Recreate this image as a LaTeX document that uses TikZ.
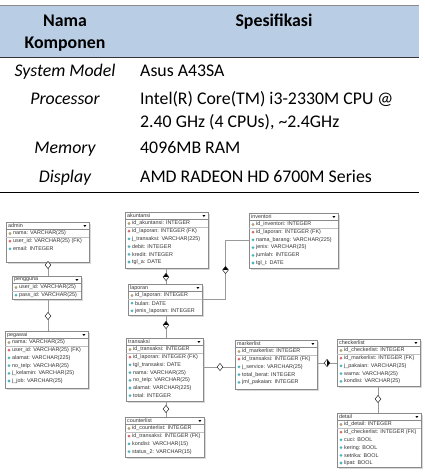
\documentclass[tikz,border=0pt]{standalone}
\usepackage{fontspec}
\setmainfont{Carlito}
\newfontfamily\erfont{Liberation Sans}
\usetikzlibrary{fit,calc,shapes.geometric}
\definecolor{hdrblue}{HTML}{B9CDE5}
\definecolor{erborder}{HTML}{8A8A8A}
\definecolor{connc}{HTML}{9A9A9A}
\definecolor{keyc}{HTML}{D9B44A}
\definecolor{fkc}{HTML}{D9686B}
\definecolor{atc}{HTML}{4FB3BF}
\tikzset{
  tabtxt/.style={font=\fontsize{17.8pt}{21pt}\selectfont, inner sep=0pt},
  tabhdr/.style={tabtxt, font=\fontsize{17.8pt}{21pt}\selectfont\bfseries},
  tabit/.style={tabtxt, font=\fontsize{17.8pt}{21pt}\selectfont\itshape},
  ertext/.style={font=\erfont\fontsize{5.4pt}{6pt}\selectfont, inner sep=0pt, text=black!80},
  icok/.style={circle, draw=black!55, fill=keyc, line width=0.25pt, minimum size=2.4pt, inner sep=0pt},
  icof/.style={diamond, fill=fkc, minimum width=3.2pt, minimum height=3.2pt, inner sep=0pt},
  icoa/.style={diamond, fill=atc, minimum width=3.2pt, minimum height=3.2pt, inner sep=0pt},
  conn/.style={draw=connc, line width=0.6pt},
  relopen/.style={diamond, draw=black!85, fill=white, line width=0.5pt, minimum width=6pt, minimum height=7.5pt, inner sep=0pt},
  reltop/.style={relopen, path picture={\fill[black] (path picture bounding box.north west) rectangle (path picture bounding box.east);}},
  relright/.style={relopen, path picture={\fill[black] (path picture bounding box.north) rectangle (path picture bounding box.south east);}},
}
\newcommand\erent[6]{%
  \fill[black!15] (#3+1.5,#4+1.5) rectangle (#5+1.5,#6+1.5);
  \node[fit={(#3,#4) (#5,#6)}, inner sep=0pt, draw=erborder, fill=white, line width=0.5pt] (#1) {};
  \draw[erborder, line width=0.4pt] (#3,#4+7.5) -- (#5,#4+7.5);
  \draw[black!25, line width=0.3pt] (#3,#4+15.4) -- (#5,#4+15.4);
  \node[ertext, anchor=west] (#1-t) at (#3+2,#4+3.9) {#2};
  \fill[black] (#5-5.6,#4+3) -- (#5-2.6,#4+3) -- (#5-4.1,#4+5) -- cycle;
}
\newcommand\errows[4]{%
  \foreach \t/\s [count=\i from 0] in {#4} {
    \node[ertext, anchor=west] (#1-\i) at ({#2+7},{#3+11.5+\i*7.7}) {\s};
    \node[ico\t] (#1-i\i) at ({#2+4},{#3+11.5+\i*7.7}) {};
  }
}
\begin{document}
\begin{tikzpicture}[x=1pt,y=-1pt]
\useasboundingbox (0,0) rectangle (424,474);
% ---------- table ----------
\fill[hdrblue] (0,5) rectangle (419,57);
\draw[black!45, line width=0.6pt] (0,5) -- (419,5);
\draw[black!80, line width=0.8pt] (0,57) -- (419,57);
\draw[black, line width=0.9pt] (0,192) -- (419,192);
\node[tabhdr, anchor=base] (h1a) at (65,26) {Nama};
\node[tabhdr, anchor=base] (h1b) at (65,48) {Komponen};
\node[tabhdr, anchor=base] (h2) at (274,26) {Spesifikasi};
\node[tabit, anchor=base] (c1) at (65,76) {System Model};
\node[tabtxt, anchor=base west] (s1) at (140,76) {Asus A43SA};
\node[tabit, anchor=base] (c2) at (65,104) {Processor};
\node[tabtxt, anchor=base west] (s2a) at (140,104) {Intel(R) Core(TM) i3-2330M CPU @};
\node[tabtxt, anchor=base west] (s2b) at (140,127) {2.40 GHz (4 CPUs), \textasciitilde 2.4GHz};
\node[tabit, anchor=base] (c3) at (65,153) {Memory};
\node[tabtxt, anchor=base west] (s3) at (140,153) {4096MB RAM};
\node[tabit, anchor=base] (c4) at (65,182) {Display};
\node[tabtxt, anchor=base west] (s4) at (140,182) {AMD RADEON HD 6700M Series};
% ---------- ER entities ----------
\erent{admin}{admin}{6}{222}{89}{262}
\errows{admin}{6}{222}{k/{nama: VARCHAR(25)}, f/{user\_id: VARCHAR(25) (FK)}, a/{email: INTEGER}}
\erent{pengguna}{pengguna}{12}{276}{81}{299}
\errows{pengguna}{12}{276}{k/{user\_id: VARCHAR(25)}, a/{pass\_id: VARCHAR(25)}}
\erent{pegawai}{pegawai}{5}{331}{88}{388}
\errows{pegawai}{5}{331}{k/{nama: VARCHAR(25)}, f/{user\_id: VARCHAR(25) (FK)}, a/{alamat: VARCHAR(225)}, a/{no\_telp: VARCHAR(25)}, a/{j\_kelamin: VARCHAR(25)}, a/{j\_job: VARCHAR(25)}}
\erent{akuntansi}{akuntansi}{125}{212}{208}{268}
\errows{akuntansi}{125}{212}{k/{id\_akuntansi: INTEGER}, f/{id\_laporan: INTEGER (FK)}, a/{j\_transaksi: VARCHAR(225)}, a/{debit: INTEGER}, a/{kredit: INTEGER}, a/{tgl\_a: DATE}}
\erent{inventori}{inventori}{249}{213}{338}{268}
\errows{inventori}{249}{213}{k/{id\_inventori: INTEGER}, f/{id\_laporan: INTEGER (FK)}, a/{nama\_barang: VARCHAR(225)}, a/{jenis: VARCHAR(25)}, a/{jumlah: INTEGER}, a/{tgl\_i: DATE}}
\erent{laporan}{laporan}{128}{284}{202}{315}
\errows{laporan}{128}{284}{k/{id\_laporan: INTEGER}, a/{bulan: DATE}, a/{jenis\_laporan: INTEGER}}
\erent{transaksi}{transaksi}{126}{338}{203}{401}
\errows{transaksi}{126}{338}{k/{id\_transaksi: INTEGER}, f/{id\_laporan: INTEGER (FK)}, a/{tgl\_transaksi: DATE}, a/{nama: VARCHAR(25)}, a/{no\_telp: VARCHAR(25)}, a/{alamat: VARCHAR(225)}, a/{total: INTEGER}}
\erent{counterlist}{counterlist}{125}{417}{204}{457}
\errows{counterlist}{125}{417}{k/{id\_counterlist: INTEGER}, f/{id\_transaksi: INTEGER (FK)}, a/{kondisi: VARCHAR(15)}, a/{status\_2: VARCHAR(15)}}
\erent{markerlist}{markerlist}{235}{340}{317}{389}
\errows{markerlist}{235}{340}{k/{id\_markerlist: INTEGER}, f/{id\_transaksi: INTEGER (FK)}, a/{j\_service: VARCHAR(25)}, a/{total\_berat: INTEGER}, a/{jml\_pakaian: INTEGER}}
\erent{checkerlist}{checkerlist}{337}{339}{420}{386}
\errows{checkerlist}{337}{339}{k/{id\_checkerlist: INTEGER}, f/{id\_markerlist: INTEGER (FK)}, a/{j\_pakaian: VARCHAR(25)}, a/{warna: VARCHAR(25)}, a/{kondisi: VARCHAR(25)}}
\erent{detail}{detail}{337}{413}{421}{467}
\errows{detail}{337}{413}{k/{id\_detail: INTEGER}, f/{id\_checkerlist: INTEGER (FK)}, a/{cuci: BOOL}, a/{kering: BOOL}, a/{setrika: BOOL}, a/{lipat: BOOL}}
% ---------- connectors ----------
\coordinate (m1) at (48,265);
\coordinate (m2) at (48,316);
\coordinate (m3) at (166,277);
\coordinate (m4) at ($(laporan.east)!0.5!(inventori.west)$);
\coordinate (m5) at (166,325);
\coordinate (m6) at (220,367);
\coordinate (m7) at (166,409);
\coordinate (m8) at (327,363);
\coordinate (m9) at (378,399);
\draw[conn] (m1 |- admin.south) -- (m1 |- pengguna.north);
\draw[conn] (m2 |- pengguna.south) -- (m2 |- pegawai.north);
\draw[conn] (m3 |- akuntansi.south) -- (m3 |- laporan.north);
\draw[conn] (laporan.east) -- (laporan.east -| m4) -- (inventori.west -| m4) -- (inventori.west);
\draw[conn] (m5 |- laporan.south) -- (m5 |- transaksi.north);
\draw[conn] (m6 -| transaksi.east) -- (m6 -| markerlist.west);
\draw[conn] (m7 |- transaksi.south) -- (m7 |- counterlist.north);
\draw[conn] (m8 -| markerlist.east) -- (m8 -| checkerlist.west);
\draw[conn] (m9 |- checkerlist.south) -- (m9 |- detail.north);
\node[relopen] (d1) at (m1) {};
\node[relopen] (d2) at (m2) {};
\node[reltop] (d3) at (m3) {};
\node[reltop] (d4) at (m4) {};
\node[reltop] (d5) at (m5) {};
\node[relopen] (d6) at (m6) {};
\node[relopen] (d7) at (m7) {};
\node[relright] (d8) at (m8) {};
\node[relopen] (d9) at (m9) {};
\end{tikzpicture}
\end{document}
